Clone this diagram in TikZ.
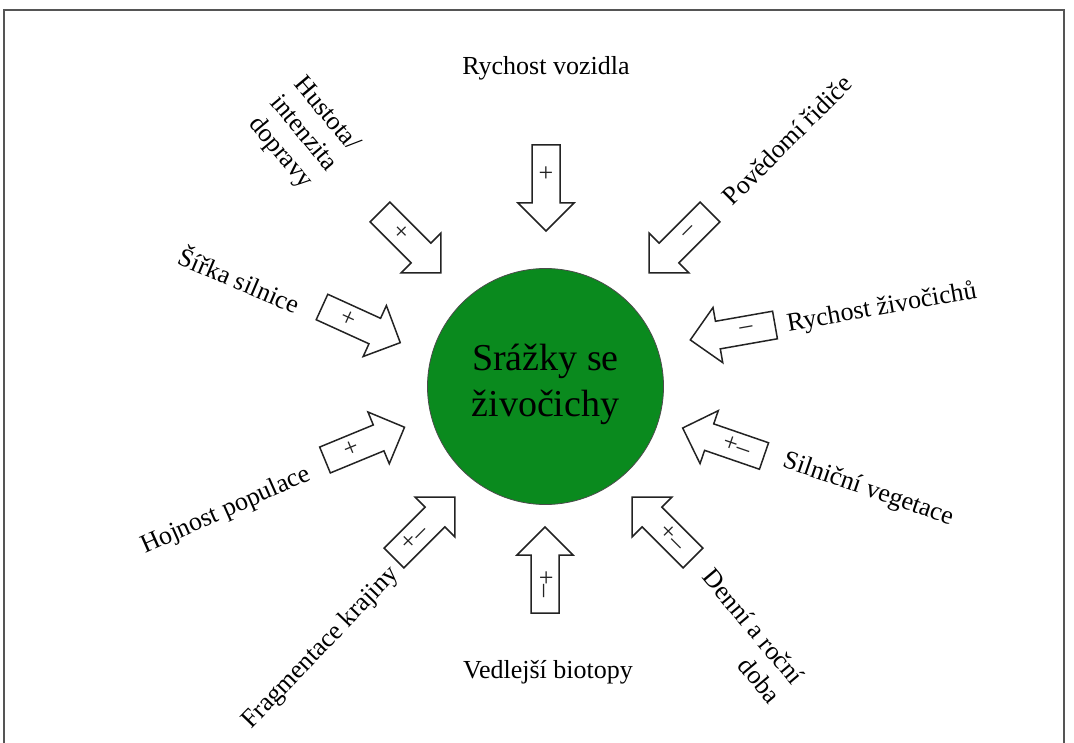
\documentclass[tikz,border=0pt]{standalone}
\usepackage{fontspec}
\setmainfont{Liberation Serif}
\definecolor{circgreen}{RGB}{10,138,30}
\definecolor{framegray}{RGB}{85,85,85}
\definecolor{arrowgray}{RGB}{35,35,35}
\newcommand\blockarrow[6]{%
  \begin{scope}[shift={(#2,#3)}, rotate=#4]
    \draw[barrow] (0,14)--(58,14)--(58,28)--(86,0)--(58,-28)--(58,-14)--(0,-14)--cycle;
    \node[sign, rotate=#6] (#1) at (29,0) {#5};
  \end{scope}}
\begin{document}
\begin{tikzpicture}[x=1pt,y=-1pt,
  barrow/.style={draw=arrowgray, line width=1.5pt, fill=white, line join=miter},
  sign/.style={font=\fontsize{26}{28}\selectfont, inner sep=0pt, text=arrowgray},
  lbl/.style={font=\fontsize{26}{30}\selectfont, inner sep=0pt, text=black},
  frame/.style={draw=framegray, line width=1.5pt}]
\useasboundingbox (0,0) rectangle (1074,743);
\draw[frame] (4,760) -- (4,10) -- (1064,10) -- (1064,760);
% central circle
\node[circle, draw=black!70, line width=0.8pt, fill=circgreen, minimum size=236pt, inner sep=0pt] (c) at (545.5,386.5) {};
\node[font=\fontsize{38}{46}\selectfont, align=center, inner sep=0pt] (ct) at (545.5,384) {Srážky se\\živočichy};
% block arrows: name, tail x, tail y, angle, sign, sign rotation
\blockarrow{a1}{546}{145}{-90}{+}{0}
\blockarrow{a2}{380}{212}{-45}{+}{-45}
\blockarrow{a3}{710}{212}{-135}{\textendash}{45}
\blockarrow{a4}{322}{307}{-24.5}{+}{-24.5}
\blockarrow{a5}{775}{325}{-170}{\textendash}{10}
\blockarrow{a6}{325}{460}{22.4}{+}{22.4}
\blockarrow{a7}{764}{456}{161}{+\textendash}{-19}
\blockarrow{a8}{394}{558}{45}{+\textendash}{45}
\blockarrow{a9}{693}{558}{135}{+\textendash}{-45}
\blockarrow{a10}{545}{613}{90}{+\textendash}{-90}
% labels
\node[lbl] (rv) at (546,68) {Rychost vozidla};
\node[lbl, rotate=-50, align=center] (hu) at (303,134) {Hustota/\\intenzita\\dopravy};
\node[lbl, rotate=45] (po) at (787,140) {Povědomí řidiče};
\node[lbl, rotate=-23] (si) at (240,279) {Šířka silnice};
\node[lbl, rotate=10] (rz) at (882,308) {Rychost živočichů};
\node[lbl, rotate=24] (ho) at (226,511) {Hojnost populace};
\node[lbl, rotate=-19] (sv) at (868,490) {Silniční vegetace};
\node[lbl, rotate=46] (fr) at (321,648) {Fragmentace krajiny};
\node[lbl, rotate=-50, align=right] (dr) at (742,636) {Denní a roční\\doba};
\node[lbl] (vb) at (548,672) {Vedlejší biotopy};
\end{tikzpicture}
\end{document}
